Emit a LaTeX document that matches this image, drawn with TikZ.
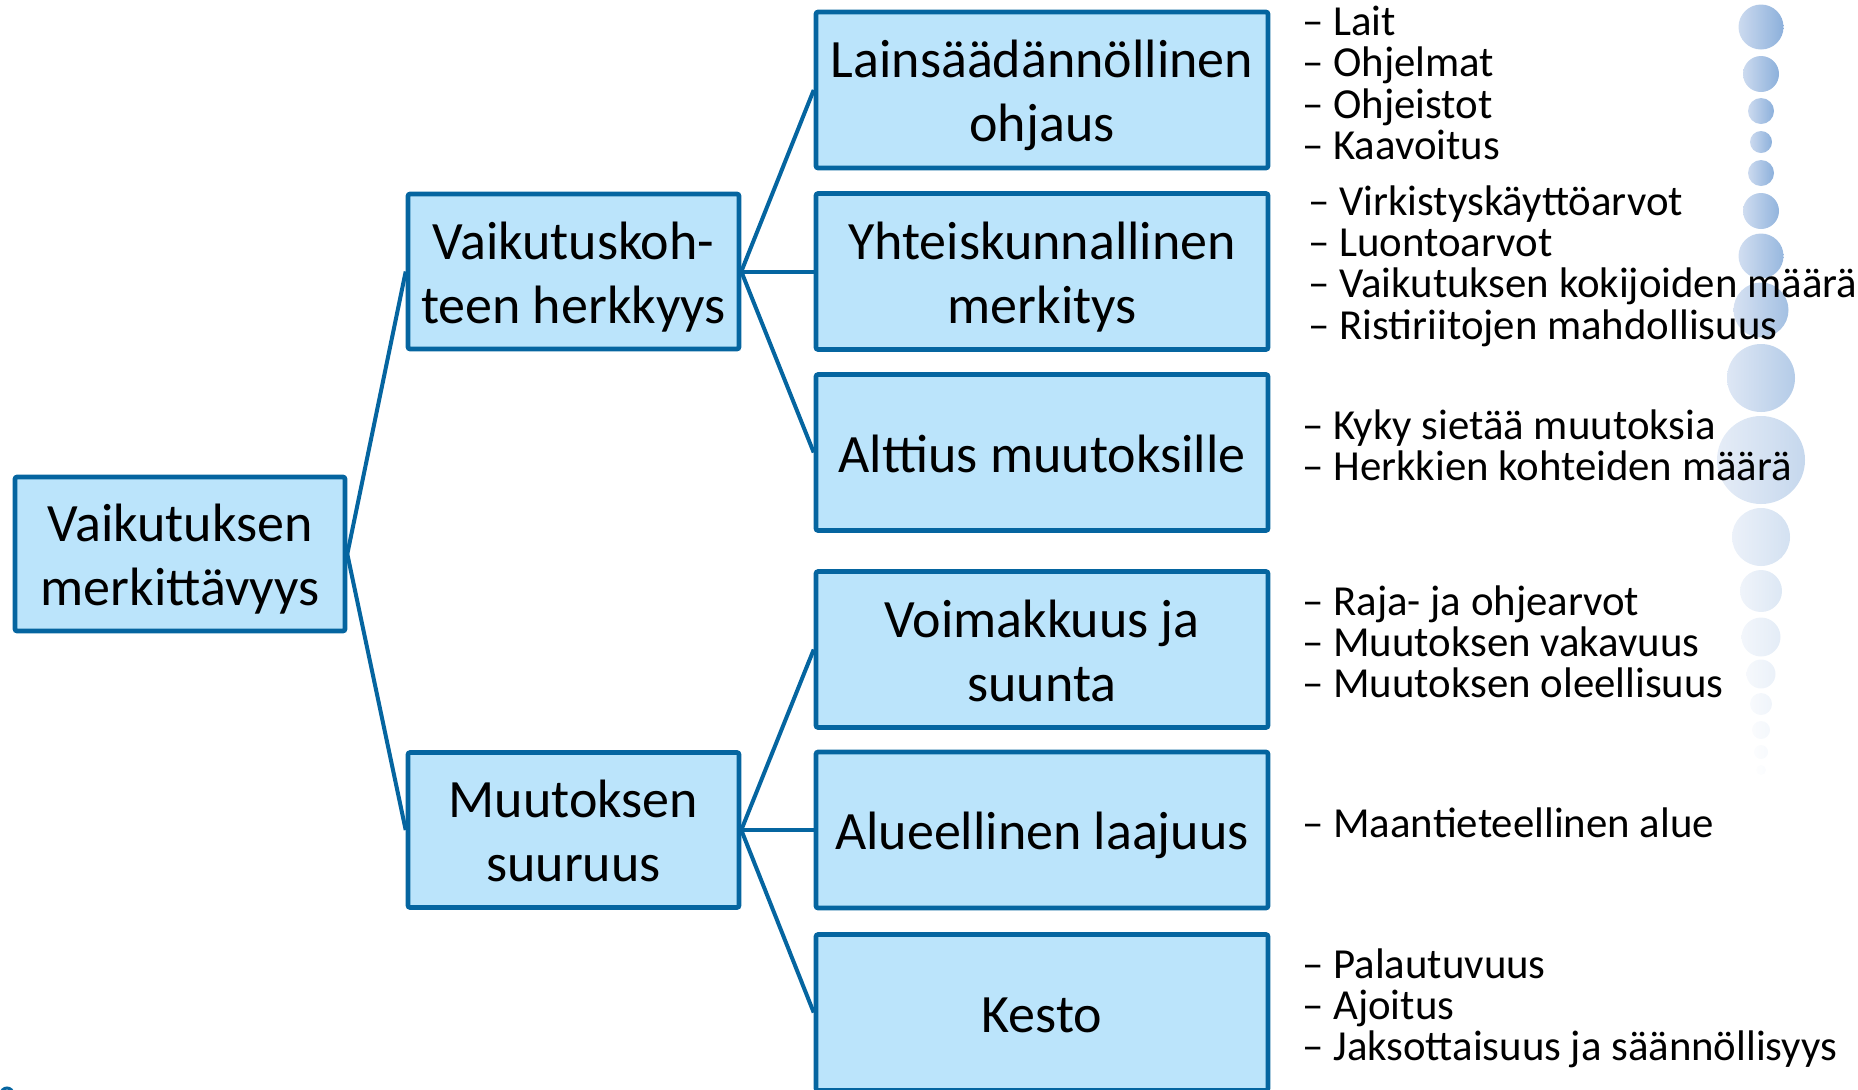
\documentclass[tikz,border=0pt]{standalone}
\usepackage{fontspec}
\setmainfont{Carlito}
\definecolor{boxborder}{HTML}{0565A0}
\definecolor{boxfill}{HTML}{BBE4FB}
\definecolor{bubL}{HTML}{CCDAEF}
\definecolor{bubR}{HTML}{8CB0DB}
\newcommand\bxt{\rule{0pt}{26.3pt}}
\newcommand\bxb{\rule[-6.7pt]{0pt}{6.7pt}}
\begin{document}
\begin{tikzpicture}[x=0.5pt,y=-0.5pt,
  box/.style={draw=boxborder, fill=boxfill, line width=2.3pt, rounded corners=1pt,
    align=center, inner sep=0pt, font=\fontsize{27}{32}\selectfont},
  lvla/.style={box, minimum width=165pt, minimum height=77pt},
  lvlb/.style={box, minimum width=165.5pt, minimum height=77.5pt},
  lvlc/.style={box, minimum width=226pt, minimum height=78pt},
  conn/.style={draw=boxborder, line width=2pt},
  blist/.style={anchor=west, align=left, inner sep=0pt, font=\fontsize{21.4}{20.6}\selectfont}]
\useasboundingbox (0,0) rectangle (1858,1089);
\clip (0,0) rectangle (1858,1089);
% decorative bubbles
\foreach \cy/\r/\p in {27/22.5/100, 74/18/100, 111/13/100, 142/11/100, 173/13/100, 211/18/95,
  256/22.5/90, 310/27.5/80, 378/34/65, 460/44/50, 537/29/38, 591/21/30, 637/19.5/24,
  674/14.5/18, 704/11/14, 730/9/10, 752/7/7, 770/5/4}
  {\shade[left color=bubL!\p!white, right color=bubR!\p!white] (1761,\cy) circle[radius=\r];}
% boxes
\node[lvla] (a) at (180,554) {\bxt Vaikutuksen\\merkittävyys\bxb};
\node[lvlb] (b1) at (573.5,271.5) {\bxt Vaikutuskoh-\\teen herkkyys\bxb};
\node[lvlb] (b2) at (573.5,830) {\bxt Muutoksen\\suuruus\bxb};
\node[lvlc] (c1) at (1042,90) {\bxt Lainsäädännöllinen\\ohjaus\bxb};
\node[lvlc] (c2) at (1042,271.5) {\bxt Yhteiskunnallinen\\merkitys\bxb};
\node[lvlc] (c3) at (1042,452.5) {\bxt Alttius muutoksille\bxb};
\node[lvlc] (c4) at (1042,649.5) {\bxt Voimakkuus ja\\suunta\bxb};
\node[lvlc] (c5) at (1042,830) {\bxt Alueellinen laajuus\bxb};
\node[lvlc] (c6) at (1042,1012.5) {\bxt Kesto\bxb};
% connectors
\draw[conn] (a.east) -- (b1.west);
\draw[conn] (a.east) -- (b2.west);
\draw[conn] (b1.east) -- (c1.west);
\draw[conn] (b1.east) -- (c2.west);
\draw[conn] (b1.east) -- (c3.west);
\draw[conn] (b2.east) -- (c4.west);
\draw[conn] (b2.east) -- (c5.west);
\draw[conn] (b2.east) -- (c6.west);
% lists
\node[blist] (l1) at (1302,83) {– Lait\\– Ohjelmat\\– Ohjeistot\\– Kaavoitus};
\node[blist] (l2) at (1308,266) {– Virkistyskäyttöarvot\\– Luontoarvot\\– Vaikutuksen kokijoiden määrä\\– Ristiriitojen mahdollisuus};
\node[blist] (l3) at (1302,445) {– Kyky sietää muutoksia\\– Herkkien kohteiden määrä};
\node[blist] (l4) at (1302,642) {– Raja- ja ohjearvot\\– Muutoksen vakavuus\\– Muutoksen oleellisuus};
\node[blist] (l5) at (1302,823) {– Maantieteellinen alue};
\node[blist] (l6) at (1302,1008) {– Palautuvuus\\– Ajoitus\\– Jaksottaisuus ja säännöllisyys};
% cut-off ring at the lower left corner
\draw[boxborder, line width=1.5pt] (7,1094) circle[radius=6];
\end{tikzpicture}
\end{document}
